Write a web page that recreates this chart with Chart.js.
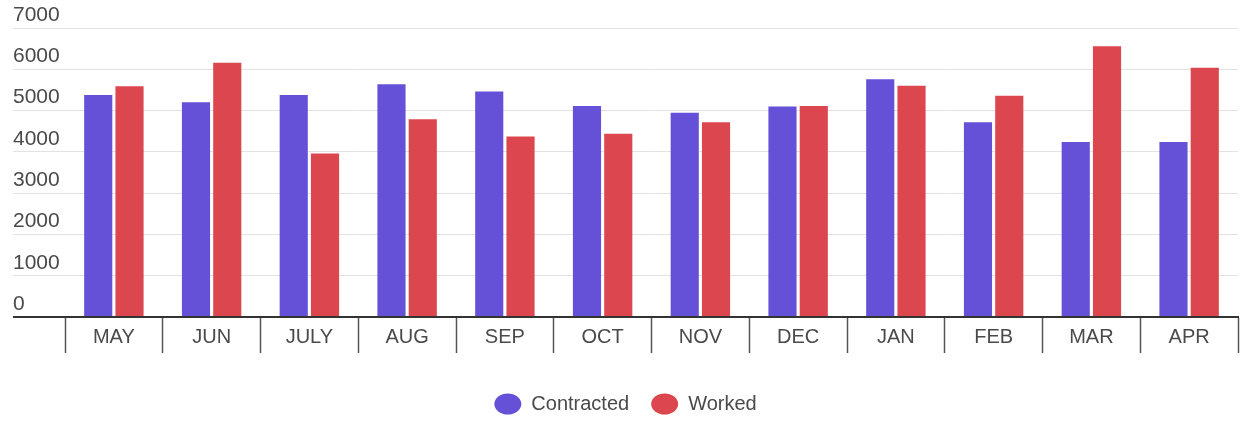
<!DOCTYPE html>
<html lang="en">

<head>
    <meta charset="UTF-8">
    <title>Contracted vs Worked</title>
    <script src="https://cdn.jsdelivr.net/npm/chart.js"></script>
    <style>
        html, body {
            margin: 0;
            padding: 0;
            background: #fff;
        }
        #chartContainer {
            width: 1240px;
            height: 421px;
        }
    </style>
</head>

<body>
    <div id="chartContainer">
        <canvas id="hoursChart"></canvas>
    </div>

    <script>
        // month labels and the two series
        const months = ['MAY', 'JUN', 'JULY', 'AUG', 'SEP', 'OCT', 'NOV', 'DEC', 'JAN', 'FEB', 'MAR', 'APR'];
        const contracted = [5380, 5200, 5380, 5640, 5460, 5110, 4950, 5100, 5760, 4720, 4240, 4240];
        const worked = [5590, 6160, 3960, 4790, 4370, 4440, 4720, 5110, 5600, 5360, 6560, 6040];
        const yTicks = [0, 1000, 2000, 3000, 4000, 5000, 6000, 7000];

        const textColor = '#4a4a4a';
        const family = '"Liberation Sans", Arial, sans-serif';

        const ctx = document.getElementById('hoursChart').getContext('2d');
        const hoursChart = new Chart(ctx, {
            type: 'bar',
            data: {
                labels: months,
                datasets: [{
                    label: 'Contracted',
                    data: contracted,
                    backgroundColor: '#6551d8',
                    categoryPercentage: 0.64,
                    barPercentage: 0.9
                }, {
                    label: 'Worked',
                    data: worked,
                    backgroundColor: '#dc474f',
                    categoryPercentage: 0.64,
                    barPercentage: 0.9
                }]
            },
            options: {
                responsive: true,
                maintainAspectRatio: false,
                animation: false,
                layout: {
                    padding: { left: 13, right: 2, top: 28, bottom: -3 }
                },
                scales: {
                    x: {
                        grid: {
                            offset: true,
                            drawOnChartArea: false,
                            drawTicks: true,
                            tickLength: 36,
                            tickColor: '#555',
                            tickWidth: 1.5
                        },
                        border: { display: true, color: '#333', width: 2 },
                        ticks: {
                            color: textColor,
                            font: { family: family, size: 20 },
                            padding: -28,
                            maxRotation: 0
                        },
                        afterFit: scale => { scale.height = 55; }
                    },
                    y: {
                        min: 0,
                        max: 7000,
                        afterBuildTicks: scale => {
                            scale.ticks = yTicks.map(v => ({ value: v }));
                        },
                        grid: {
                            color: c => c.tick && c.tick.value === 0 ? '#333' : '#e2e2e2',
                            lineWidth: c => c.tick && c.tick.value === 0 ? 2 : 1,
                            drawTicks: true,
                            tickLength: 52,
                            tickColor: c => c.tick && c.tick.value === 0 ? '#333' : '#e2e2e2'
                        },
                        border: { display: false },
                        ticks: {
                            color: textColor,
                            font: { family: family, size: 21 },
                            crossAlign: 'far',
                            labelOffset: -13,
                            padding: 0,
                            callback: v => String(v)
                        },
                        afterFit: scale => { scale.width = 52; }
                    }
                },
                plugins: {
                    legend: {
                        position: 'bottom',
                        labels: {
                            usePointStyle: true,
                            pointStyle: 'circle',
                            pointStyleWidth: 27,
                            boxHeight: 15,
                            padding: 22,
                            color: textColor,
                            font: { family: family, size: 20 }
                        }
                    },
                    tooltip: { enabled: false }
                }
            }
        });
    </script>
</body>

</html>
